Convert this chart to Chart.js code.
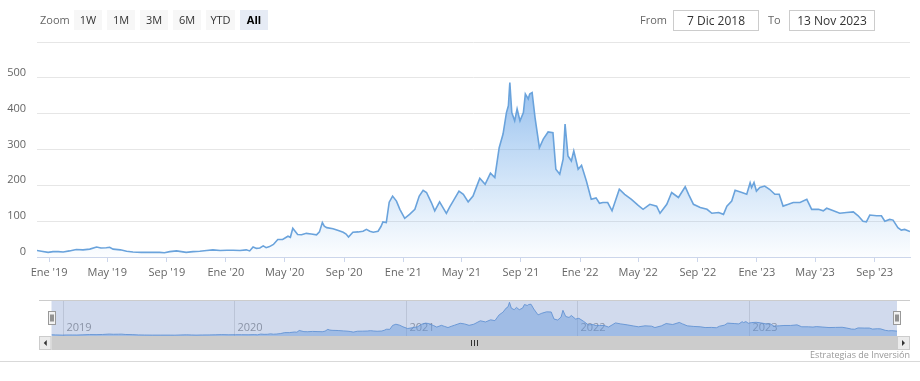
<!DOCTYPE html>
<html><head><meta charset="utf-8">
<script src="https://cdn.jsdelivr.net/npm/chart.js@4.4.0/dist/chart.umd.min.js"></script>
<style>
html,body{margin:0;padding:0;background:#fff;width:920px;height:381px;overflow:hidden;font-family:'Open Sans',sans-serif;}
#wrap{position:relative;width:920px;height:381px;}
.lbl{position:absolute;top:10px;font-size:11px;color:#666;line-height:20px;}
.btn{position:absolute;top:10px;height:20px;width:28px;background:#f7f7f7;color:#333;font-size:11px;line-height:20px;text-align:center;}
.btn.sel{background:#e6ebf5;color:#000;font-weight:bold;}
.inp{position:absolute;top:10px;height:21px;border:1px solid #ccc;font-size:12px;color:#333;text-align:center;line-height:19px;box-sizing:border-box;}
#main{position:absolute;left:0;top:0;}
#nav{position:absolute;left:0;top:290px;}
#credit{position:absolute;right:10px;top:348px;font-size:9px;color:#999;line-height:14px;}
#hr{position:absolute;left:0;top:361px;width:920px;height:1px;background:#d9d9d9;}
</style></head>
<body><div id="wrap">
<canvas id="main" width="920" height="290"></canvas>
<canvas id="nav" width="920" height="72"></canvas>
<div class="lbl" style="left:40px;">Zoom</div>
<div class="btn" style="left:74px;">1W</div>
<div class="btn" style="left:107px;">1M</div>
<div class="btn" style="left:140px;">3M</div>
<div class="btn" style="left:173px;">6M</div>
<div class="btn" style="left:206px;width:29px;">YTD</div>
<div class="btn sel" style="left:240px;">All</div>
<div class="lbl" style="left:640px;">From</div>
<div class="inp" style="left:673px;width:86px;">7 Dic 2018</div>
<div class="lbl" style="left:768px;">To</div>
<div class="inp" style="left:789px;width:86px;">13 Nov 2023</div>
<div id="credit">Estrategias de Inversión</div>
<div id="hr"></div>
</div>
<script>
const dates = [
'2018-12-07','2018-12-16','2018-12-30','2019-01-09','2019-01-20','2019-01-30','2019-02-12','2019-02-26','2019-03-12','2019-03-26',
'2019-04-09','2019-04-18','2019-04-29','2019-05-06','2019-05-13','2019-05-28','2019-06-10','2019-06-23','2019-07-10','2019-07-28',
'2019-08-17','2019-08-27','2019-09-07','2019-09-21','2019-10-01','2019-10-11','2019-10-25','2019-11-08','2019-11-22','2019-12-05',
'2019-12-20','2020-01-03','2020-01-16','2020-01-30','2020-02-12','2020-02-19','2020-02-26','2020-03-04','2020-03-11','2020-03-18',
'2020-03-24','2020-03-31','2020-04-08','2020-04-17','2020-04-27','2020-05-08','2020-05-13','2020-05-18','2020-05-28','2020-06-05',
'2020-06-15','2020-06-25','2020-07-06','2020-07-12','2020-07-18','2020-07-22','2020-07-27','2020-08-09','2020-08-20','2020-08-30',
'2020-09-05','2020-09-10','2020-09-19','2020-09-30','2020-10-10','2020-10-17','2020-10-24','2020-10-31','2020-11-10','2020-11-16',
'2020-11-20','2020-11-27','2020-12-03','2020-12-10','2020-12-18','2020-12-25','2021-01-04','2021-01-14','2021-01-25','2021-02-03',
'2021-02-11','2021-02-18','2021-02-28','2021-03-07','2021-03-17','2021-03-24','2021-03-31','2021-04-07','2021-04-14','2021-04-26',
'2021-05-05','2021-05-15','2021-05-25','2021-06-01','2021-06-08','2021-06-19','2021-06-30','2021-07-09','2021-07-18','2021-07-26',
'2021-08-02','2021-08-06','2021-08-09','2021-08-13','2021-08-19','2021-08-24','2021-08-30','2021-09-06','2021-09-10','2021-09-16',
'2021-09-19','2021-09-24','2021-09-30','2021-10-09','2021-10-17','2021-10-27','2021-11-06','2021-11-12','2021-11-20','2021-11-27',
'2021-12-01','2021-12-07','2021-12-14','2021-12-19','2021-12-28','2022-01-04','2022-01-14','2022-01-24','2022-02-03','2022-02-10',
'2022-02-17','2022-02-27','2022-03-08','2022-03-16','2022-03-23','2022-04-03','2022-04-17','2022-05-01','2022-05-11','2022-05-25',
'2022-06-08','2022-06-15','2022-06-29','2022-07-09','2022-07-23','2022-08-06','2022-08-13','2022-08-23','2022-09-06','2022-09-20',
'2022-09-30','2022-10-14','2022-10-24','2022-10-31','2022-11-10','2022-11-17','2022-12-01','2022-12-11','2022-12-18','2022-12-21',
'2022-12-26','2022-12-31','2023-01-07','2023-01-17','2023-01-27','2023-02-07','2023-02-16','2023-02-24','2023-03-07','2023-03-17',
'2023-03-31','2023-04-14','2023-04-24','2023-05-08','2023-05-18','2023-05-25','2023-06-08','2023-06-21','2023-07-05','2023-07-19',
'2023-07-29','2023-08-08','2023-08-15','2023-08-22','2023-09-05','2023-09-15','2023-09-22','2023-10-02','2023-10-09','2023-10-19',
'2023-10-26','2023-11-02','2023-11-13'
];
const values = [
18,16,13,15,15,14,17,21,20,22,
28,25,26,27,22,20,16,14,13,13,
13,12,15,17,15,13,15,16,18,20,
18,19,19,18,20,17,28,24,25,31,
26,29,35,49,49,58,55,80,63,62,
66,64,62,70,96,86,82,79,74,69,
64,56,69,70,72,77,72,69,72,85,
98,96,153,170,156,133,108,119,133,170,
186,180,152,129,154,138,122,140,156,184,
175,154,170,195,220,203,234,222,305,343,
403,422,487,403,380,413,380,403,455,441,
455,459,389,305,329,349,347,245,231,273,
371,282,268,296,245,256,212,161,165,150,
152,152,129,161,189,175,161,144,133,147,
142,122,147,180,166,196,175,147,138,133,
122,124,119,142,156,186,180,175,207,194,
208,184,194,198,189,175,175,142,147,152,
152,161,133,133,129,136,129,122,124,126,
115,100,98,117,115,115,100,105,103,82,
75,77,71
];
const xTickDates = ['2019-01-01','2019-05-01','2019-09-01','2020-01-01','2020-05-01','2020-09-01','2021-01-01','2021-05-01','2021-09-01','2022-01-01','2022-05-01','2022-09-01','2023-01-01','2023-05-01','2023-09-01'];
const monthNames = ['Ene','Feb','Mar','Abr','May','Jun','Jul','Ago','Sep','Oct','Nov','Dic'];
const yTicks = [0,100,200,300,400,500,600];
const navYears = ['2019','2020','2021','2022','2023'];

const ts = s => { const p = s.split('-').map(Number); return Date.UTC(p[0], p[1]-1, p[2]); };
const xMin = ts(dates[0]), xMax = ts(dates[dates.length-1]);
const points = dates.map((d,i) => ({x: ts(d), y: values[i]}));
const FONT = "'Open Sans', sans-serif";

new Chart(document.getElementById('main'), {
  type: 'line',
  data: { datasets: [{
    data: points,
    borderColor: '#6aa3dc',
    borderWidth: 1.6,
    pointRadius: 0,
    tension: 0,
    fill: 'origin',
    backgroundColor: (ctx) => {
      const chart = ctx.chart, a = chart.chartArea;
      if (!a) return 'rgba(124,181,236,0.4)';
      const g = chart.ctx.createLinearGradient(0, a.top, 0, a.bottom);
      g.addColorStop(0, 'rgba(100,160,230,0.85)');
      g.addColorStop(1, 'rgba(124,181,236,0.03)');
      return g;
    }
  }]},
  options: {
    responsive: false, animation: false,
    layout: { padding: { left: 0, right: 10, top: 42, bottom: 0 } },
    plugins: { legend: { display: false }, tooltip: { enabled: false } },
    scales: {
      x: {
        type: 'linear', min: xMin, max: xMax,
        afterBuildTicks: s => { s.ticks = xTickDates.map(d => ({ value: ts(d) })); },
        afterFit: s => { s.height = 33; },
        ticks: {
          autoSkip: false, maxRotation: 0, padding: 4, color: '#666',
          font: { family: FONT, size: 11 },
          callback: v => { const dt = new Date(v); return monthNames[dt.getUTCMonth()] + " '" + String(dt.getUTCFullYear()).slice(2); }
        },
        grid: { drawOnChartArea: false, tickLength: 5, color: '#ccd6eb' },
        border: { color: '#ccd6eb' }
      },
      y: {
        min: 0, max: 600,
        afterBuildTicks: s => { s.ticks = yTicks.map(v => ({ value: v })); },
        afterFit: s => { s.width = 37; },
        ticks: { padding: 11, labelOffset: -5, color: '#666', font: { family: FONT, size: 11 },
          callback: v => v === 600 ? '' : String(v) },
        grid: { color: '#e6e6e6', drawTicks: false },
        border: { display: false }
      }
    }
  }
});

const navPlugin = {
  id: 'navDeco',
  beforeDatasetsDraw(chart) {
    const ctx = chart.ctx, a = chart.chartArea, x = chart.scales.x;
    ctx.save();
    ctx.strokeStyle = '#e0e0e0'; ctx.lineWidth = 1;
    ctx.font = "11px " + FONT; ctx.fillStyle = '#999'; ctx.textBaseline = 'middle';
    navYears.forEach(yr => {
      const px = Math.round(x.getPixelForValue(ts(yr + '-01-01'))) + 0.5;
      ctx.beginPath(); ctx.moveTo(px, a.top); ctx.lineTo(px, a.bottom); ctx.stroke();
      ctx.fillText(yr, px + 3, 38);
    });
    ctx.fillStyle = 'rgba(102,133,194,0.3)';
    ctx.fillRect(a.left, a.top, a.right - a.left, a.bottom - a.top);
    ctx.restore();
  },
  afterDraw(chart) {
    const ctx = chart.ctx, a = chart.chartArea;
    ctx.save();
    // outline
    ctx.strokeStyle = '#cccccc'; ctx.lineWidth = 1;
    ctx.beginPath(); ctx.moveTo(39, 10.5); ctx.lineTo(910, 10.5); ctx.stroke();
    // scrollbar
    const sy = 46, sh = 14;
    ctx.fillStyle = '#cccccc'; ctx.fillRect(a.left, sy, a.right - a.left, sh);
    ctx.fillStyle = '#ebebeb';
    ctx.fillRect(39, sy, a.left - 39, sh);
    ctx.fillRect(a.right, sy, 910 - a.right, sh);
    ctx.strokeStyle = '#cccccc';
    ctx.strokeRect(39.5, sy + 0.5, a.left - 40, sh - 1);
    ctx.strokeRect(a.right + 0.5, sy + 0.5, 910 - a.right - 1, sh - 1);
    ctx.fillStyle = '#333';
    const lc = (39 + a.left) / 2, rc = (a.right + 910) / 2, cy = sy + sh / 2;
    ctx.beginPath(); ctx.moveTo(lc - 1.5, cy); ctx.lineTo(lc + 1.5, cy - 3); ctx.lineTo(lc + 1.5, cy + 3); ctx.closePath(); ctx.fill();
    ctx.beginPath(); ctx.moveTo(rc + 1.5, cy); ctx.lineTo(rc - 1.5, cy - 3); ctx.lineTo(rc - 1.5, cy + 3); ctx.closePath(); ctx.fill();
    // rifles
    const mc = Math.round((a.left + a.right) / 2);
    ctx.strokeStyle = '#333';
    [-3, 0, 3].forEach(o => { ctx.beginPath(); ctx.moveTo(mc + o + 0.5, cy - 3); ctx.lineTo(mc + o + 0.5, cy + 3); ctx.stroke(); });
    // handles
    [a.left, a.right].forEach(hx => {
      const l = Math.round(hx - 4) + 0.5;
      ctx.fillStyle = '#f2f2f2'; ctx.strokeStyle = '#999';
      ctx.fillRect(l, 21.5, 7, 13); ctx.strokeRect(l, 21.5, 7, 13);
      ctx.strokeStyle = '#333';
      ctx.beginPath(); ctx.moveTo(l + 2.5, 24.5); ctx.lineTo(l + 2.5, 31.5);
      ctx.moveTo(l + 4.5, 24.5); ctx.lineTo(l + 4.5, 31.5); ctx.stroke();
    });
    ctx.restore();
  }
};

new Chart(document.getElementById('nav'), {
  type: 'line',
  data: { datasets: [{
    data: points, borderColor: 'rgba(95,145,210,0.85)', borderWidth: 1, pointRadius: 0, tension: 0,
    fill: 'origin', backgroundColor: 'rgba(100,150,220,0.45)'
  }]},
  options: {
    responsive: false, animation: false,
    layout: { padding: { left: 51.5, right: 23, top: 10, bottom: 26 } },
    plugins: { legend: { display: false }, tooltip: { enabled: false } },
    scales: {
      x: { type: 'linear', display: false, min: xMin, max: xMax },
      y: { display: false, min: 0, max: 520 }
    }
  },
  plugins: [navPlugin]
});
</script>
</body></html>
